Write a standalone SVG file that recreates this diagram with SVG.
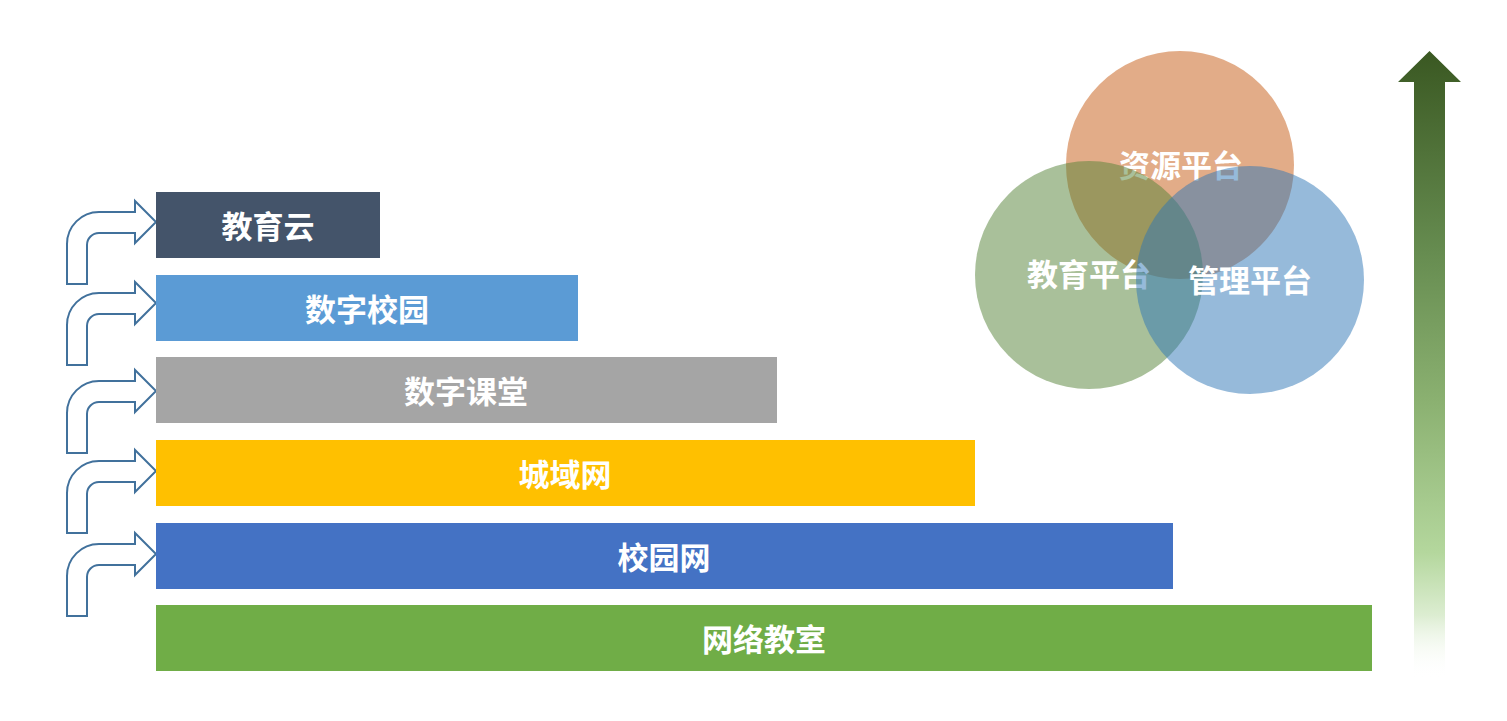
<svg xmlns="http://www.w3.org/2000/svg" width="1507" height="721" viewBox="0 0 1507 721">
<defs>
<linearGradient id="upGrad" gradientUnits="userSpaceOnUse" x1="0" y1="51" x2="0" y2="678">
<stop offset="0" stop-color="#3A5822"/>
<stop offset="0.32" stop-color="#668C50"/>
<stop offset="0.56" stop-color="#8BB171"/>
<stop offset="0.8" stop-color="#B4D79D"/>
<stop offset="0.9" stop-color="#DCEDD1"/>
<stop offset="1" stop-color="#FFFFFF" stop-opacity="0"/>
</linearGradient>
<path id="bent" d="M 67 62 L 67 22 A 32 32 0 0 1 99 -10 L 135 -10 L 135 -21 L 156 0 L 135 21 L 135 11 L 99 11 A 12 12 0 0 0 87 23 L 87 62 Z"/>
</defs>
<style>
.lbl{font-family:"Noto Sans CJK SC","Noto Sans",sans-serif;font-weight:bold;font-size:31px;fill:#FFFFFF;text-anchor:middle;dominant-baseline:central}
.bent{fill:#FFFFFF;stroke:#41719C;stroke-width:2}
.circ{opacity:0.5}
</style>
<rect width="1507" height="721" fill="#FFFFFF"/>
<g id="connectors">
<use href="#bent" class="bent" transform="translate(0,222)"/>
<use href="#bent" class="bent" transform="translate(0,303)"/>
<use href="#bent" class="bent" transform="translate(0,391)"/>
<use href="#bent" class="bent" transform="translate(0,471)"/>
<use href="#bent" class="bent" transform="translate(0,554)"/>
</g>
<g id="bar-cloud"><rect x="156" y="192" width="224" height="66" fill="#44546A"/><text class="lbl" x="268" y="224">教育云</text></g>
<g id="bar-campus"><rect x="156" y="275" width="422" height="66" fill="#5B9BD5"/><text class="lbl" x="367" y="307">数字校园</text></g>
<g id="bar-classroom"><rect x="156" y="357" width="621" height="66" fill="#A5A5A5"/><text class="lbl" x="466" y="389">数字课堂</text></g>
<g id="bar-metro"><rect x="156" y="440" width="819" height="66" fill="#FFC000"/><text class="lbl" x="565" y="472">城域网</text></g>
<g id="bar-lan"><rect x="156" y="523" width="1017" height="66" fill="#4472C4"/><text class="lbl" x="664" y="555">校园网</text></g>
<g id="bar-netroom"><rect x="156" y="605" width="1216" height="66" fill="#70AD47"/><text class="lbl" x="764" y="637">网络教室</text></g>
<g id="circle-resource"><circle class="circ" cx="1180" cy="165" r="114" fill="#C55A11"/><text class="lbl" x="1181" y="163">资源平台</text></g>
<g id="circle-education"><circle class="circ" cx="1089" cy="275" r="114" fill="#548235"/><text class="lbl" x="1089" y="272">教育平台</text></g>
<g id="circle-management"><circle class="circ" cx="1250" cy="280" r="114" fill="#2E75B6"/><text class="lbl" x="1250" y="278">管理平台</text></g>
<g id="up-arrow"><path d="M 1414 678 L 1414 82 L 1398 82 L 1429.5 51 L 1461 82 L 1445 82 L 1445 678 Z" fill="url(#upGrad)"/></g>
</svg>
